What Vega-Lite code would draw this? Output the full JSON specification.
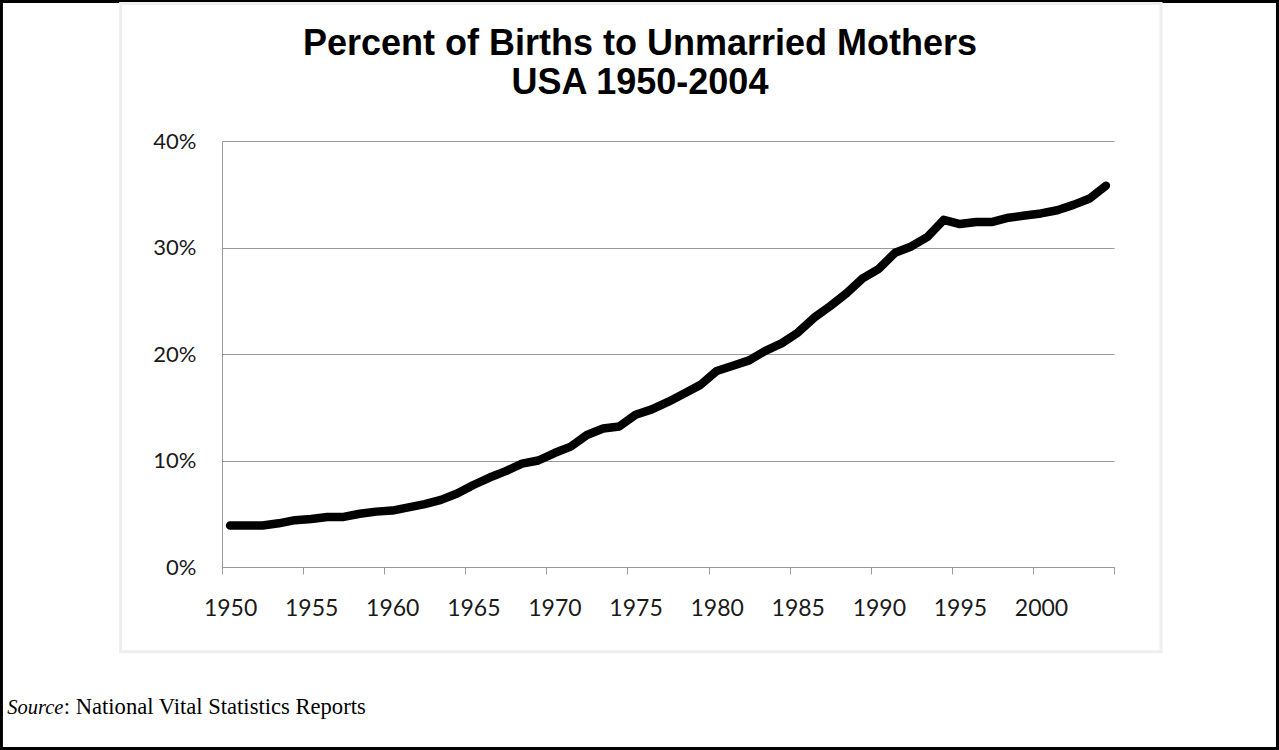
{
  "$schema": "https://vega.github.io/schema/vega-lite/v6.json",
  "width": 892,
  "height": 426,
  "autosize": {"type": "none"},
  "padding": {"left": 222, "top": 141, "right": 165, "bottom": 183},
  "background": "#ffffff",
  "config": {"view": {"stroke": null}},
  "title": {
    "text": ["Percent of Births to Unmarried Mothers", "USA 1950-2004"],
    "font": "Liberation Sans",
    "fontSize": 36,
    "fontWeight": "bold",
    "color": "#000000",
    "anchor": "middle",
    "frame": "group",
    "dx": -28,
    "lineHeight": 39,
    "offset": -102
  },
  "datasets": {
    "one": [{"k": 1}],
    "births": [
      {"year": 1950, "pct": 3.9}, {"year": 1951, "pct": 3.9}, {"year": 1952, "pct": 3.9},
      {"year": 1953, "pct": 4.1}, {"year": 1954, "pct": 4.4}, {"year": 1955, "pct": 4.5},
      {"year": 1956, "pct": 4.7}, {"year": 1957, "pct": 4.7}, {"year": 1958, "pct": 5.0},
      {"year": 1959, "pct": 5.2}, {"year": 1960, "pct": 5.3}, {"year": 1961, "pct": 5.6},
      {"year": 1962, "pct": 5.9}, {"year": 1963, "pct": 6.3}, {"year": 1964, "pct": 6.9},
      {"year": 1965, "pct": 7.7}, {"year": 1966, "pct": 8.4}, {"year": 1967, "pct": 9.0},
      {"year": 1968, "pct": 9.7}, {"year": 1969, "pct": 10.0}, {"year": 1970, "pct": 10.7},
      {"year": 1971, "pct": 11.3}, {"year": 1972, "pct": 12.4}, {"year": 1973, "pct": 13.0},
      {"year": 1974, "pct": 13.2}, {"year": 1975, "pct": 14.3}, {"year": 1976, "pct": 14.8},
      {"year": 1977, "pct": 15.5}, {"year": 1978, "pct": 16.3}, {"year": 1979, "pct": 17.1},
      {"year": 1980, "pct": 18.4}, {"year": 1981, "pct": 18.9}, {"year": 1982, "pct": 19.4},
      {"year": 1983, "pct": 20.3}, {"year": 1984, "pct": 21.0}, {"year": 1985, "pct": 22.0},
      {"year": 1986, "pct": 23.4}, {"year": 1987, "pct": 24.5}, {"year": 1988, "pct": 25.7},
      {"year": 1989, "pct": 27.1}, {"year": 1990, "pct": 28.0}, {"year": 1991, "pct": 29.5},
      {"year": 1992, "pct": 30.1}, {"year": 1993, "pct": 31.0}, {"year": 1994, "pct": 32.6},
      {"year": 1995, "pct": 32.2}, {"year": 1996, "pct": 32.4}, {"year": 1997, "pct": 32.4},
      {"year": 1998, "pct": 32.8}, {"year": 1999, "pct": 33.0}, {"year": 2000, "pct": 33.2},
      {"year": 2001, "pct": 33.5}, {"year": 2002, "pct": 34.0}, {"year": 2003, "pct": 34.6},
      {"year": 2004, "pct": 35.8}
    ]
  },
  "layer": [
    {
      "data": {"name": "one"},
      "mark": {"type": "rect", "fill": null, "stroke": "#000000", "strokeWidth": 3, "clip": false},
      "encoding": {
        "x": {"datum": 1935.9, "type": "quantitative"},
        "x2": {"datum": 2014.58},
        "y": {"datum": 53.1, "type": "quantitative"},
        "y2": {"datum": -17.04}
      }
    },
    {
      "data": {"name": "one"},
      "mark": {"type": "rect", "fill": null, "stroke": "#eeeeee", "strokeWidth": 3, "clip": false},
      "encoding": {
        "x": {"datum": 1943.25, "type": "quantitative"},
        "x2": {"datum": 2007.4},
        "y": {"datum": 52.9, "type": "quantitative"},
        "y2": {"datum": -7.95}
      }
    },
    {
      "data": {"name": "births"},
      "mark": {"type": "line", "color": "#000000", "strokeWidth": 8.5, "strokeCap": "round", "strokeJoin": "round"},
      "encoding": {
        "x": {
          "field": "year",
          "type": "quantitative",
          "scale": {"domain": [1949.5, 2004.5], "nice": false, "zero": false},
          "axis": {
            "title": null,
            "values": [1949.5, 1954.5, 1959.5, 1964.5, 1969.5, 1974.5, 1979.5, 1984.5, 1989.5, 1994.5, 1999.5, 2004.5],
            "labelExpr": "datum.value < 2004 ? format(datum.value + 0.5, 'd') : ''",
            "labelOffset": 8.1,
            "labelFlush": false,
            "labelBound": false,
            "labelOverlap": false,
            "labelFont": "Lato",
            "labelFontSize": 23,
            "labelColor": "#1a1a1a",
            "labelPadding": 23,
            "grid": false,
            "domainColor": "#999999",
            "domainWidth": 1,
            "tickColor": "#999999",
            "tickSize": 7,
            "tickWidth": 1
          }
        },
        "y": {
          "field": "pct",
          "type": "quantitative",
          "scale": {"domain": [0, 40], "nice": false},
          "axis": {
            "title": null,
            "values": [0, 10, 20, 30, 40],
            "labelExpr": "datum.value + '%'",
            "labelFont": "Lato",
            "labelFontSize": 22,
            "labelColor": "#1a1a1a",
            "labelPadding": 26,
            "ticks": false,
            "tickSize": 0,
            "grid": true,
            "gridColor": "#999999",
            "gridWidth": 1,
            "domainColor": "#999999",
            "domainWidth": 1
          }
        }
      }
    },
    {
      "data": {"name": "one"},
      "mark": {"type": "text", "font": "Liberation Serif", "fontSize": 20.5, "fontStyle": "italic", "align": "left", "baseline": "alphabetic", "color": "#000000"},
      "encoding": {
        "x": {"datum": 1936.26, "type": "quantitative"},
        "y": {"datum": -13.8, "type": "quantitative"},
        "text": {"value": "Source"}
      }
    },
    {
      "data": {"name": "one"},
      "mark": {"type": "text", "font": "Liberation Serif", "fontSize": 22.6, "align": "left", "baseline": "alphabetic", "color": "#000000", "dx": 56.5},
      "encoding": {
        "x": {"datum": 1936.26, "type": "quantitative"},
        "y": {"datum": -13.8, "type": "quantitative"},
        "text": {"value": ": National Vital Statistics Reports"}
      }
    }
  ]
}
